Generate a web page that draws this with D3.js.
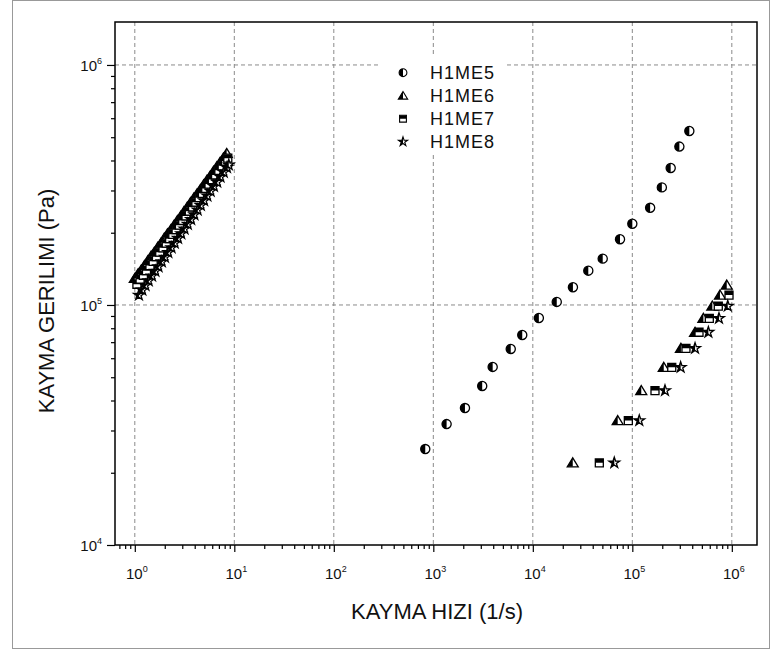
<!DOCTYPE html>
<html><head><meta charset="utf-8">
<script src="https://cdn.jsdelivr.net/npm/d3@7"></script>
<style>body{margin:0;background:#fff} text{font-family:"Liberation Sans",Arial,sans-serif;fill:#111}</style>
</head><body>
<svg id="c" width="771" height="652"></svg>
<script>
// ---------- data ----------
const seriesNames = ["H1ME5", "H1ME6", "H1ME7", "H1ME8"];
const xTickExp = [0, 1, 2, 3, 4, 5, 6];
const yTickExp = [4, 5, 6];
const xTitle = "KAYMA HIZI (1/s)";
const yTitle = "KAYMA GERILIMI (Pa)";

const h1me5Rate = [830, 1360, 2080, 3100, 3950, 6000, 7830, 11500, 17400, 25300, 36100, 50400, 75200, 100000, 151000, 198000, 243000, 297000, 374000];
const h1me5Stress = [25100, 31900, 37200, 46000, 55200, 65600, 75000, 88300, 103000, 118500, 139000, 156000, 188000, 218000, 254000, 309000, 372000, 457000, 531000];

const h1me6Rate = [1.00, 1.08, 1.16, 1.25, 1.35, 1.46, 1.57, 1.70, 1.83, 1.98, 2.13, 2.30, 2.48, 2.68, 2.89, 3.12, 3.37, 3.63, 3.92, 4.23, 4.56, 4.92, 5.31, 5.73, 6.18, 6.67, 7.20, 7.77, 8.38,
  25200, 71300, 123000, 207000, 308000, 427000, 518000, 637000, 760000, 889000];
const h1me6Stress = [129000, 135000, 140000, 146000, 153000, 160000, 166000, 174000, 181000, 190000, 198000, 206000, 215000, 225000, 234000, 245000, 256000, 267000, 279000, 291000, 303000, 317000, 331000, 345000, 361000, 377000, 393000, 410000, 428000,
  22000, 33000, 44000, 55000, 66000, 77000, 88000, 99000, 110000, 121000];

const h1me7Rate = [1.05, 1.13, 1.22, 1.31, 1.42, 1.53, 1.65, 1.78, 1.92, 2.07, 2.24, 2.41, 2.60, 2.81, 3.03, 3.27, 3.53, 3.81, 4.11, 4.43, 4.78, 5.16, 5.57, 6.01, 6.48, 6.99, 7.55, 8.14, 8.60,
  46600, 91200, 169000, 249000, 346000, 468000, 594000, 731000, 937000];
const h1me7Stress = [122000, 128000, 133000, 139000, 146000, 152000, 159000, 166000, 173000, 181000, 189000, 197000, 206000, 215000, 225000, 235000, 246000, 256000, 268000, 280000, 292000, 306000, 319000, 333000, 348000, 364000, 380000, 397000, 409000,
  22000, 33000, 44000, 55000, 66000, 77000, 88000, 99000, 110000];

const h1me8Rate = [1.10, 1.19, 1.28, 1.38, 1.49, 1.61, 1.73, 1.87, 2.01, 2.17, 2.34, 2.52, 2.72, 2.93, 3.16, 3.41, 3.68, 3.97, 4.28, 4.61, 4.97, 5.36, 5.78, 6.24, 6.73, 7.26, 7.83, 8.44, 8.80,
  65900, 117500, 213000, 306000, 427000, 581000, 743000, 910000];
const h1me8Stress = [110000, 115500, 120700, 126200, 132200, 138400, 144500, 151400, 158200, 165600, 173300, 181100, 189700, 198300, 207500, 217200, 227400, 237900, 248900, 260200, 272300, 284900, 298100, 312200, 325100, 341800, 357600, 374000, 383600,
  22000, 33000, 44000, 55000, 66000, 77000, 88000, 99000];

const seriesRates = [h1me5Rate, h1me6Rate, h1me7Rate, h1me8Rate];
const seriesStress = [h1me5Stress, h1me6Stress, h1me7Stress, h1me8Stress];
const seriesShapes = ["circle", "triangle", "square", "star"];

// ---------- layout ----------
const svg = d3.select("#c");
const L = 115, R = 757, T = 22, B = 545;
const x = d3.scaleLog().domain([Math.pow(10, -0.199), Math.pow(10, 6.253)]).range([L, R]);
const y = d3.scaleLog().domain([1e4, Math.pow(10, 6.179)]).range([B, T]);

svg.append("rect").attr("x", 12.5).attr("y", 0.5).attr("width", 757).attr("height", 648)
  .attr("fill", "#fff").attr("stroke", "#999").attr("stroke-width", 1);

// clip paths for half-filled markers
const defs = svg.append("defs");
defs.append("clipPath").attr("id", "leftHalf").attr("clipPathUnits", "objectBoundingBox")
  .append("rect").attr("x", 0).attr("y", 0).attr("width", 0.5).attr("height", 1);
defs.append("clipPath").attr("id", "topHalf").attr("clipPathUnits", "objectBoundingBox")
  .append("rect").attr("x", 0).attr("y", 0).attr("width", 1).attr("height", 0.5);

// grid
const gridColor = "#8a8a8a";
const grid = svg.append("g");
xTickExp.forEach(e => {
  grid.append("line").attr("x1", x(Math.pow(10, e))).attr("x2", x(Math.pow(10, e)))
    .attr("y1", T).attr("y2", B).attr("stroke", gridColor).attr("stroke-width", 1).attr("stroke-dasharray", "4,3");
});
yTickExp.filter(e => e > 4).forEach(e => {
  grid.append("line").attr("x1", L).attr("x2", R).attr("y1", y(Math.pow(10, e))).attr("y2", y(Math.pow(10, e)))
    .attr("stroke", gridColor).attr("stroke-width", 1).attr("stroke-dasharray", "4,3");
});

// axes
const minorX = x.ticks().filter(v => !xTickExp.some(e => Math.abs(Math.log10(v) - e) < 1e-9));
const minorY = y.ticks().filter(v => !yTickExp.some(e => Math.abs(Math.log10(v) - e) < 1e-9));
const gx = svg.append("g").attr("transform", `translate(0,${B})`);
gx.call(d3.axisBottom(x).tickValues(xTickExp.map(e => Math.pow(10, e))).tickSize(7).tickFormat(""));
gx.call(g => g.select(".domain").remove());
const gxm = svg.append("g").attr("transform", `translate(0,${B})`);
gxm.call(d3.axisBottom(x).tickValues(minorX).tickSize(4).tickFormat(""));
gxm.select(".domain").remove();
const gy = svg.append("g").attr("transform", `translate(${L},0)`);
gy.call(d3.axisLeft(y).tickValues(yTickExp.map(e => Math.pow(10, e))).tickSize(8).tickFormat(""));
gy.select(".domain").remove();
const gym = svg.append("g").attr("transform", `translate(${L},0)`);
gym.call(d3.axisLeft(y).tickValues(minorY).tickSize(4).tickFormat(""));
gym.select(".domain").remove();
svg.selectAll(".tick line").attr("stroke", "#000").attr("stroke-width", 1.2);

// tick labels
xTickExp.forEach(e => {
  const t = svg.append("text").attr("x", x(Math.pow(10, e)) + 2).attr("y", B + 34)
    .attr("text-anchor", "middle").attr("font-size", 15);
  t.append("tspan").text("10");
  t.append("tspan").attr("dy", -7).attr("font-size", 9).text(e);
});
yTickExp.forEach(e => {
  const t = svg.append("text").attr("x", L - 13).attr("y", y(Math.pow(10, e)) + 6)
    .attr("text-anchor", "end").attr("font-size", 15);
  t.append("tspan").text("10");
  t.append("tspan").attr("dy", -7).attr("font-size", 9).text(e);
});

// titles
svg.append("text").attr("x", 437).attr("y", 619).attr("text-anchor", "middle")
  .attr("font-size", 22).text(xTitle);
svg.append("text").attr("transform", `translate(54,301) rotate(-90)`).attr("text-anchor", "middle")
  .attr("font-size", 22).text(yTitle);

// marker paths
function shapePath(shape) {
  if (shape === "circle") return d3.symbol().type(d3.symbolCircle).size(66)();
  if (shape === "triangle") return "M0,-5L5.5,4L-5.5,4Z";
  if (shape === "square") return "M-4,-4H4V4H-4Z";
  if (shape === "star") return d3.symbol().type(d3.symbolStar).size(36)();
}
function drawMarker(g, shape) {
  const p = shapePath(shape);
  g.append("path").attr("d", p).attr("fill", "#fff").attr("stroke", "#000").attr("stroke-width", 1.3);
  g.append("path").attr("d", p).attr("fill", "#000")
    .attr("clip-path", shape === "square" ? "url(#topHalf)" : "url(#leftHalf)");
}

// frame
svg.append("rect").attr("x", L).attr("y", T).attr("width", R - L).attr("height", B - T)
  .attr("fill", "none").attr("stroke", "#000").attr("stroke-width", 1.5);

// data points
seriesNames.forEach((name, i) => {
  const pts = seriesRates[i].map((r, k) => [r, seriesStress[i][k]]);
  const g = svg.append("g");
  pts.forEach(d => {
    const m = g.append("g").attr("transform", `translate(${x(d[0])},${y(d[1])})`);
    drawMarker(m, seriesShapes[i]);
  });
});

// legend
const lg = svg.append("g");
lg.append("rect").attr("x", 380).attr("y", 57).attr("width", 125).attr("height", 98).attr("fill", "#fff");
seriesNames.forEach((name, i) => {
  const cy = 72.7 + 23 * i;
  const m = lg.append("g").attr("transform", `translate(403,${cy}) scale(0.85)`);
  drawMarker(m, seriesShapes[i]);
  lg.append("text").attr("x", 430).attr("y", cy + 6.5).attr("font-size", 18)
    .attr("letter-spacing", 1).text(name);
});
</script>
</body></html>
